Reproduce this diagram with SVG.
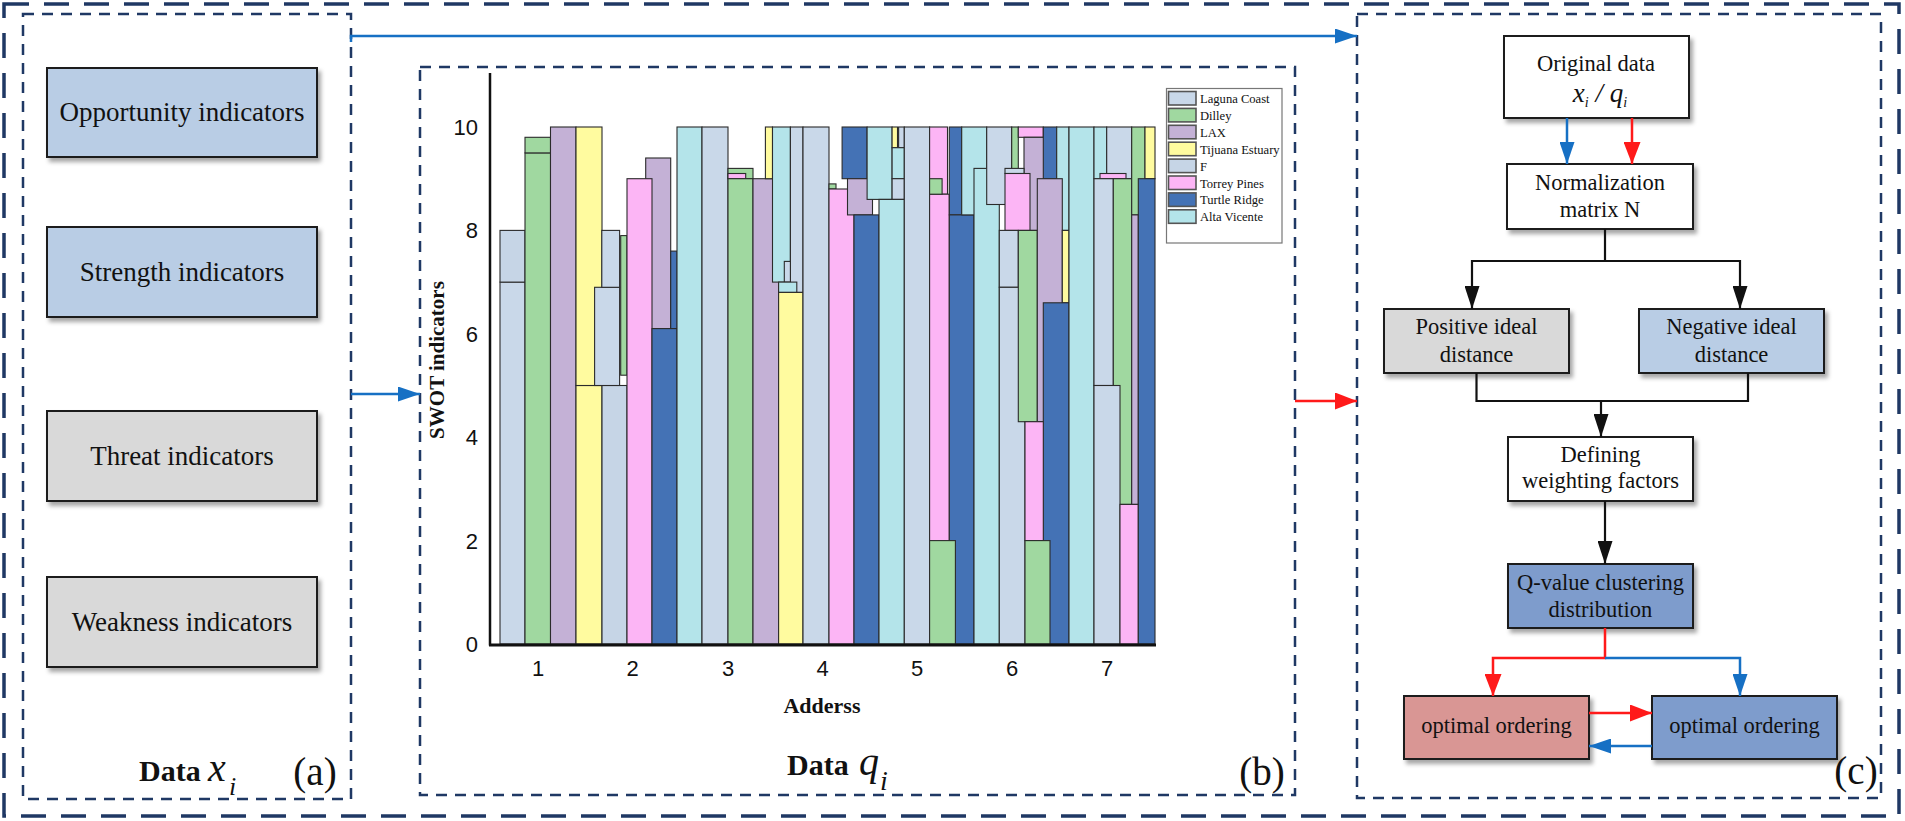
<svg xmlns="http://www.w3.org/2000/svg" width="1905" height="821" viewBox="0 0 1905 821">
<style>
.outer{fill:none;stroke:#1f3864;stroke-width:3.5;stroke-dasharray:25 15}
.panel{fill:none;stroke:#1f3864;stroke-width:2.5;stroke-dasharray:11 8}
.box{stroke:#1e1e1e;stroke-width:2}
.lb{fill:#b9cde5}.gr{fill:#d9d9d9}.wh{fill:#ffffff}.qb{fill:#7e9ccc}.rs{fill:#d99694}
.t{font-family:"Liberation Serif","Times New Roman",serif;fill:#111;text-anchor:middle}
.ta{font-size:27px}.tc{font-size:22.5px}
.it{font-style:italic}
.bd{font-weight:bold}
.num{font-family:"Liberation Sans",Arial,sans-serif;font-size:22px;fill:#111}
.bar rect{stroke:#2b2b2b;stroke-width:1.1}
.LC{fill:#c9d8e9}.F{fill:#c6d5e6}.DI{fill:#a0d8a0}.LX{fill:#c4b1d6}.TJ{fill:#fffb9f}.TP{fill:#fcb5f5}.TR{fill:#4472b5}.AV{fill:#b4e4ea}
.cb{fill:none;stroke:#1670c4;stroke-width:2.5}
.cr{fill:none;stroke:#ff1a1a;stroke-width:2.5}
.ck{fill:none;stroke:#111;stroke-width:2.2}
.leg{font-family:"Liberation Serif","Times New Roman",serif;font-size:12.6px;fill:#111}
</style>
<defs>
<filter id="sh" x="-10%" y="-10%" width="125%" height="135%">
<feDropShadow dx="3" dy="4" stdDeviation="2.2" flood-color="#000" flood-opacity="0.35"/>
</filter>
<marker id="mb" markerWidth="22" markerHeight="15" refX="22" refY="7.5" orient="auto" markerUnits="userSpaceOnUse"><path d="M0,0 L22,7.5 L0,15 Z" fill="#1670c4"/></marker>
<marker id="mr" markerWidth="22" markerHeight="17" refX="22" refY="8.5" orient="auto" markerUnits="userSpaceOnUse"><path d="M0,0 L22,8.5 L0,17 Z" fill="#ff1a1a"/></marker>
<marker id="mk" markerWidth="23" markerHeight="15" refX="23" refY="7.5" orient="auto" markerUnits="userSpaceOnUse"><path d="M0,0 L23,7.5 L0,15 Z" fill="#111"/></marker>
</defs>
<rect width="1905" height="821" fill="#ffffff"/>

<g id="frames">
<rect class="outer" x="4" y="4" width="1895" height="812"/>
<rect class="panel" x="23" y="14" width="328" height="785"/>
<rect class="panel" x="420" y="67" width="875" height="728"/>
<rect class="panel" x="1357" y="14" width="524" height="784"/>
</g>

<g id="panel-a">
<g id="opportunity"><rect class="box lb" x="47" y="68" width="270" height="89" filter="url(#sh)"/><text class="t ta" x="182" y="121">Opportunity indicators</text></g>
<g id="strength"><rect class="box lb" x="47" y="227" width="270" height="90" filter="url(#sh)"/><text class="t ta" x="182" y="281">Strength indicators</text></g>
<g id="threat"><rect class="box gr" x="47" y="411" width="270" height="90" filter="url(#sh)"/><text class="t ta" x="182" y="465">Threat indicators</text></g>
<g id="weakness"><rect class="box gr" x="47" y="577" width="270" height="90" filter="url(#sh)"/><text class="t ta" x="182" y="631">Weakness indicators</text></g>
<g id="label-a">
<text class="t bd" x="139" y="781" style="text-anchor:start;font-size:30px">Data</text>
<text class="t it" x="208" y="781" style="text-anchor:start;font-size:40px">x</text>
<text class="t it" x="229" y="795" style="text-anchor:start;font-size:26px">i</text>
<text class="t" x="315" y="785" style="font-size:39px">(a)</text>
</g>
</g>

<g id="panel-b">
<g id="chart" class="bar">
<rect class="LC" x="500" y="282.1" width="25" height="361.9"/>
<rect class="F" x="500" y="230.4" width="25" height="51.7"/>
<rect class="DI" x="525" y="152.9" width="25.5" height="491.1"/>
<rect class="DI" x="525" y="137.3" width="25.5" height="15.6"/>
<rect class="LX" x="550.5" y="127" width="25.5" height="517"/>
<rect class="TJ" x="576" y="385.5" width="26" height="258.5"/>
<rect class="TJ" x="576" y="127" width="26" height="258.5"/>
<rect class="F" x="602" y="385.5" width="25" height="258.5"/>
<rect class="DI" x="620.7" y="235.6" width="6.3" height="139.6"/>
<rect class="LC" x="594.6" y="287.3" width="25" height="98.2"/>
<rect class="LC" x="601.8" y="230.4" width="17.8" height="56.9"/>
<rect class="LX" x="645.7" y="158" width="25" height="170.6"/>
<rect class="TP" x="627" y="178.7" width="25" height="465.3"/>
<rect class="TR" x="670.7" y="251.1" width="6.4" height="77.5"/>
<rect class="TR" x="652" y="328.6" width="25" height="315.4"/>
<rect class="AV" x="677" y="127" width="25" height="517"/>
<rect class="LC" x="702" y="127" width="26" height="517"/>
<rect class="DI" x="728" y="168.4" width="25" height="10.3"/>
<rect class="TP" x="728" y="173.5" width="17.7" height="5.2"/>
<rect class="DI" x="728" y="178.7" width="25" height="465.3"/>
<rect class="LX" x="753" y="178.7" width="25.6" height="465.3"/>
<rect class="TJ" x="765.4" y="127" width="7.1" height="51.7"/>
<rect class="AV" x="772.5" y="127" width="17.9" height="155.1"/>
<rect class="LC" x="790.4" y="127" width="12.6" height="165.4"/>
<rect class="LC" x="784.3" y="261.4" width="6.1" height="20.7"/>
<rect class="AV" x="778.6" y="282.1" width="18.2" height="10.3"/>
<rect class="TJ" x="778.6" y="292.4" width="24.4" height="351.6"/>
<rect class="LC" x="803" y="127" width="26" height="517"/>
<rect class="DI" x="829" y="183.9" width="7" height="5.1"/>
<rect class="TP" x="829" y="189" width="25" height="455"/>
<rect class="TR" x="842.1" y="127" width="25" height="51.7"/>
<rect class="LX" x="847.5" y="178.7" width="25" height="36.2"/>
<rect class="AV" x="867.1" y="127" width="25" height="72.4"/>
<rect class="TR" x="854" y="214.9" width="25" height="429.1"/>
<rect class="TJ" x="892.1" y="127" width="5.4" height="20.7"/>
<rect class="LC" x="898.6" y="127" width="5.7" height="20.7"/>
<rect class="AV" x="892.1" y="147.7" width="12.2" height="31"/>
<rect class="LC" x="892.1" y="178.7" width="12.2" height="20.7"/>
<rect class="AV" x="879" y="199.4" width="25.3" height="444.6"/>
<rect class="LC" x="904.3" y="127" width="25.3" height="517"/>
<rect class="TP" x="929.6" y="127" width="17.9" height="67.2"/>
<rect class="TP" x="929.6" y="194.2" width="19.7" height="449.8"/>
<rect class="DI" x="929.6" y="178.7" width="12.5" height="15.5"/>
<rect class="TR" x="949.3" y="127" width="12.4" height="87.9"/>
<rect class="TR" x="949.3" y="214.9" width="24.7" height="429.1"/>
<rect class="DI" x="929.6" y="540.6" width="25.8" height="103.4"/>
<rect class="AV" x="961.7" y="127" width="25" height="87.9"/>
<rect class="AV" x="974" y="168.4" width="25.3" height="475.6"/>
<rect class="LC" x="986.7" y="127" width="25" height="77.5"/>
<rect class="DI" x="1011.7" y="127" width="6.6" height="46.5"/>
<rect class="TP" x="1018.3" y="127" width="25" height="10.3"/>
<rect class="LX" x="1024" y="137.3" width="25.3" height="93.1"/>
<rect class="LC" x="1005" y="168.4" width="19" height="5.1"/>
<rect class="TP" x="1005" y="173.5" width="25" height="56.9"/>
<rect class="LC" x="999.3" y="230.4" width="19" height="56.9"/>
<rect class="LC" x="999.3" y="287.3" width="25.7" height="356.7"/>
<rect class="DI" x="1018.3" y="230.4" width="19" height="191.3"/>
<rect class="TR" x="1043.3" y="127" width="13.4" height="51.7"/>
<rect class="AV" x="1056.7" y="127" width="12.3" height="103.4"/>
<rect class="LX" x="1037.3" y="178.7" width="25" height="243"/>
<rect class="TJ" x="1062.3" y="230.4" width="6.7" height="72.4"/>
<rect class="TR" x="1043.3" y="302.8" width="25.7" height="341.2"/>
<rect class="TP" x="1025" y="421.7" width="18.3" height="118.9"/>
<rect class="DI" x="1025" y="540.6" width="25" height="103.4"/>
<rect class="AV" x="1069" y="127" width="25" height="517"/>
<rect class="AV" x="1094" y="127" width="12.7" height="51.7"/>
<rect class="LC" x="1106.7" y="127" width="25" height="51.7"/>
<rect class="TP" x="1100" y="173.5" width="26" height="5.2"/>
<rect class="LC" x="1094" y="178.7" width="19.3" height="206.8"/>
<rect class="DI" x="1113.3" y="178.7" width="18.4" height="325.7"/>
<rect class="LC" x="1094" y="385.5" width="26" height="258.5"/>
<rect class="DI" x="1131.7" y="127" width="13.3" height="87.9"/>
<rect class="LX" x="1131.7" y="214.9" width="6.6" height="289.5"/>
<rect class="TP" x="1120" y="504.4" width="18.3" height="139.6"/>
<rect class="TJ" x="1145" y="127" width="10" height="51.7"/>
<rect class="TR" x="1138.3" y="178.7" width="16.7" height="465.3"/>
</g>
<g id="axes">
<line x1="490" y1="73" x2="490" y2="645.5" stroke="#111" stroke-width="2.5"/>
<line x1="489" y1="645" x2="1156" y2="645" stroke="#111" stroke-width="3"/>
<g class="num" text-anchor="end">
<text x="478" y="652">0</text>
<text x="478" y="548.6">2</text>
<text x="478" y="445.2">4</text>
<text x="478" y="341.8">6</text>
<text x="478" y="238.4">8</text>
<text x="478" y="135">10</text>
</g>
<g class="num" text-anchor="middle">
<text x="538" y="676">1</text>
<text x="632.5" y="676">2</text>
<text x="728" y="676">3</text>
<text x="822.5" y="676">4</text>
<text x="917" y="676">5</text>
<text x="1012" y="676">6</text>
<text x="1107" y="676">7</text>
</g>
<text class="t bd" x="822" y="713" style="font-size:22px">Adderss</text>
<text class="t bd" x="444" y="360" style="font-size:21px" transform="rotate(-90 444 360)">SWOT indicators</text>
</g>
<g id="legend">
<rect x="1166.5" y="88.5" width="115.5" height="154.5" fill="#fff" stroke="#777" stroke-width="1.2"/>
<g stroke="#555" stroke-width="1.6">
<rect class="LC" x="1168.5" y="91.5" width="27.5" height="13.5"/>
<rect class="DI" x="1168.5" y="108.4" width="27.5" height="13.5"/>
<rect class="LX" x="1168.5" y="125.3" width="27.5" height="13.5"/>
<rect class="TJ" x="1168.5" y="142.2" width="27.5" height="13.5"/>
<rect class="F" x="1168.5" y="159.1" width="27.5" height="13.5"/>
<rect class="TP" x="1168.5" y="176" width="27.5" height="13.5"/>
<rect class="TR" x="1168.5" y="192.9" width="27.5" height="13.5"/>
<rect class="AV" x="1168.5" y="209.8" width="27.5" height="13.5"/>
</g>
<text class="leg" x="1200" y="103">Laguna Coast</text>
<text class="leg" x="1200" y="119.9">Dilley</text>
<text class="leg" x="1200" y="136.8">LAX</text>
<text class="leg" x="1200" y="153.7">Tijuana Estuary</text>
<text class="leg" x="1200" y="170.6">F</text>
<text class="leg" x="1200" y="187.5">Torrey Pines</text>
<text class="leg" x="1200" y="204.4">Turtle Ridge</text>
<text class="leg" x="1200" y="221.3">Alta Vicente</text>
</g>
<g id="label-b">
<text class="t bd" x="787" y="775" style="text-anchor:start;font-size:30px">Data</text>
<text class="t it" x="859" y="775" style="text-anchor:start;font-size:40px">q</text>
<text class="t it" x="880" y="790" style="text-anchor:start;font-size:28px">i</text>
<text class="t" x="1262" y="785" style="font-size:39px">(b)</text>
</g>
</g>

<g id="panel-c">
<g id="original"><rect class="box wh" x="1504" y="36" width="185" height="82" filter="url(#sh)"/>
<text class="t tc" x="1596" y="71">Original data</text>
<text class="t it" x="1600" y="102" style="font-size:27px">x<tspan dy="5" style="font-size:14px">i</tspan><tspan dy="-5"> / q</tspan><tspan dy="5" style="font-size:14px">i</tspan></text></g>
<g id="normalization"><rect class="box wh" x="1507" y="164" width="186" height="65" filter="url(#sh)"/>
<text class="t tc" x="1600" y="190">Normalization</text><text class="t tc" x="1600" y="217">matrix N</text></g>
<g id="positive"><rect class="box gr" x="1384" y="309" width="185" height="64" filter="url(#sh)"/>
<text class="t tc" x="1476.5" y="334">Positive ideal</text><text class="t tc" x="1476.5" y="362">distance</text></g>
<g id="negative"><rect class="box lb" x="1639" y="309" width="185" height="64" filter="url(#sh)"/>
<text class="t tc" x="1731.5" y="334">Negative ideal</text><text class="t tc" x="1731.5" y="362">distance</text></g>
<g id="defining"><rect class="box wh" x="1508" y="437" width="185" height="64" filter="url(#sh)"/>
<text class="t tc" x="1600.5" y="462">Defining</text><text class="t tc" x="1600.5" y="488">weighting factors</text></g>
<g id="qvalue"><rect class="box qb" x="1508" y="564" width="185" height="64" filter="url(#sh)"/>
<text class="t tc" x="1600.5" y="590">Q-value clustering</text><text class="t tc" x="1600.5" y="617">distribution</text></g>
<g id="opt-left"><rect class="box rs" x="1404" y="696" width="185" height="63" filter="url(#sh)"/>
<text class="t tc" x="1496.5" y="733">optimal ordering</text></g>
<g id="opt-right"><rect class="box qb" x="1652" y="696" width="185" height="63" filter="url(#sh)"/>
<text class="t tc" x="1744.5" y="733">optimal ordering</text></g>
<text class="t" x="1856" y="784" style="font-size:39px">(c)</text>
</g>

<g id="connectors">
<polyline class="cb" points="351,42 351,36 1357,36" marker-end="url(#mb)"/>
<line class="cb" x1="351" y1="394" x2="420" y2="394" marker-end="url(#mb)"/>
<line class="cr" x1="1295" y1="401" x2="1357" y2="401" marker-end="url(#mr)"/>
<line class="cb" x1="1567" y1="118" x2="1567" y2="164" marker-end="url(#mb)"/>
<line class="cr" x1="1632" y1="118" x2="1632" y2="164" marker-end="url(#mr)"/>
<polyline class="ck" points="1605,229 1605,261"/>
<polyline class="ck" points="1605,261 1472,261 1472,309" marker-end="url(#mk)"/>
<polyline class="ck" points="1605,261 1740,261 1740,309" marker-end="url(#mk)"/>
<polyline class="ck" points="1476.5,373 1476.5,401 1748,401 1748,373"/>
<line class="ck" x1="1601" y1="401" x2="1601" y2="437" marker-end="url(#mk)"/>
<line class="ck" x1="1605" y1="501" x2="1605" y2="564" marker-end="url(#mk)"/>
<polyline class="cr" points="1605,628 1605,658 1493,658 1493,696" marker-end="url(#mr)"/>
<polyline class="cb" points="1605,658 1740,658 1740,696" marker-end="url(#mb)"/>
<line class="cr" x1="1589" y1="713" x2="1652" y2="713" marker-end="url(#mr)"/>
<line class="cb" x1="1652" y1="746" x2="1589" y2="746" marker-end="url(#mb)"/>
</g>
</svg>
